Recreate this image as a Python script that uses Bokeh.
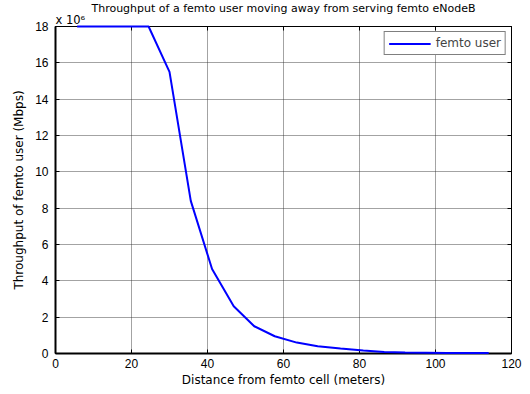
from bokeh.plotting import figure
from bokeh.models import LinearAxis, Range1d, Legend, LegendItem, FixedTicker, Title
from bokeh.embed import file_html
from bokeh.resources import INLINE

distance_m = [5.7, 24.5, 30.0, 35.6, 41.2, 46.9, 52.3, 57.7, 63.5, 69.0, 75.0, 81.0, 86.5, 92.0, 97.5, 103.0, 108.5, 114.0]
throughput = [18.0, 18.0, 15.5, 8.4, 4.65, 2.6, 1.5, 0.95, 0.6, 0.4, 0.28, 0.17, 0.08, 0.05, 0.04, 0.03, 0.03, 0.03]
x_ticks = [0, 20, 40, 60, 80, 100, 120]
y_ticks = [0, 2, 4, 6, 8, 10, 12, 14, 16, 18]
y_multiplier = "x 10\u2076"

TICKFONT = "Liberation Sans"
FONT = "DejaVu Sans"

p = figure(width=530, height=394, output_backend="svg", toolbar_location=None,
           x_range=Range1d(0, 120), y_range=Range1d(0, 18),
           min_border_left=55, min_border_right=19, min_border_top=26, min_border_bottom=41)

p.title.text = "Throughput of a femto user moving away from serving femto eNodeB"
p.title.align = "center"
p.title.text_font = FONT
p.title.text_font_size = "11px"
p.title.text_font_style = "normal"
p.title.text_color = "black"
p.title.standoff = -9
p.title.offset = 0

p.background_fill_color = "white"
p.border_fill_color = "white"
p.outline_line_color = "black"
p.outline_line_width = 1

for ax in (p.xaxis[0], p.yaxis[0]):
    ax.major_label_text_font = TICKFONT
    ax.major_label_text_font_size = "12px"
    ax.major_label_text_color = "black"
    ax.axis_label_text_font = FONT
    ax.axis_label_text_font_size = "12px"
    ax.axis_label_text_font_style = "normal"
    ax.axis_label_text_color = "black"
    ax.major_tick_in = 4
    ax.major_tick_out = 0
    ax.minor_tick_line_color = None
    ax.axis_line_color = "black"
    ax.axis_line_width = 2

p.xaxis[0].ticker = FixedTicker(ticks=x_ticks)
p.yaxis[0].ticker = FixedTicker(ticks=y_ticks)
p.xaxis[0].axis_label = "Distance from femto cell (meters)"
p.yaxis[0].axis_label = "Throughput of femto user (Mbps)"
p.xaxis[0].major_label_standoff = 5
p.xaxis[0].axis_label_standoff = 2
p.yaxis[0].major_label_standoff = 7
p.yaxis[0].axis_label_standoff = 6

right = LinearAxis(ticker=FixedTicker(ticks=y_ticks),
                   major_label_overrides={t: "" for t in y_ticks},
                   major_tick_in=4, major_tick_out=0, minor_tick_line_color=None,
                   axis_line_color="black", major_label_standoff=0)
top = LinearAxis(ticker=FixedTicker(ticks=x_ticks),
                 major_label_overrides={t: "" for t in x_ticks},
                 major_tick_in=4, major_tick_out=0, minor_tick_line_color=None,
                 axis_line_color="black", major_label_standoff=0)
p.add_layout(right, "right")
p.add_layout(top, "above")

exp_title = Title(text=y_multiplier, align="left", text_font=FONT, text_font_size="11.5px",
                  text_font_style="normal", text_color="black", standoff=0, offset=0)
p.add_layout(exp_title, "above")

p.xgrid.ticker = FixedTicker(ticks=x_ticks)
p.ygrid.ticker = FixedTicker(ticks=y_ticks)
for g in (p.xgrid[0], p.ygrid[0]):
    g.grid_line_color = "#333333"
    g.grid_line_dash = "1 1"
    g.grid_line_alpha = 0.9

r = p.line(distance_m, throughput, line_color="#0000ff", line_width=2, level="overlay")

legend = Legend(items=[LegendItem(label="femto user", renderers=[r])], location="top_right",
                border_line_color="black", border_line_width=1, background_fill_alpha=1,
                label_text_font=FONT, label_text_font_size="12px", glyph_width=42,
                glyph_height=13, label_height=13,
                padding=4, margin=5, label_standoff=5, spacing=0)
p.add_layout(legend)

open("out.html", "w").write(file_html(p, INLINE))
